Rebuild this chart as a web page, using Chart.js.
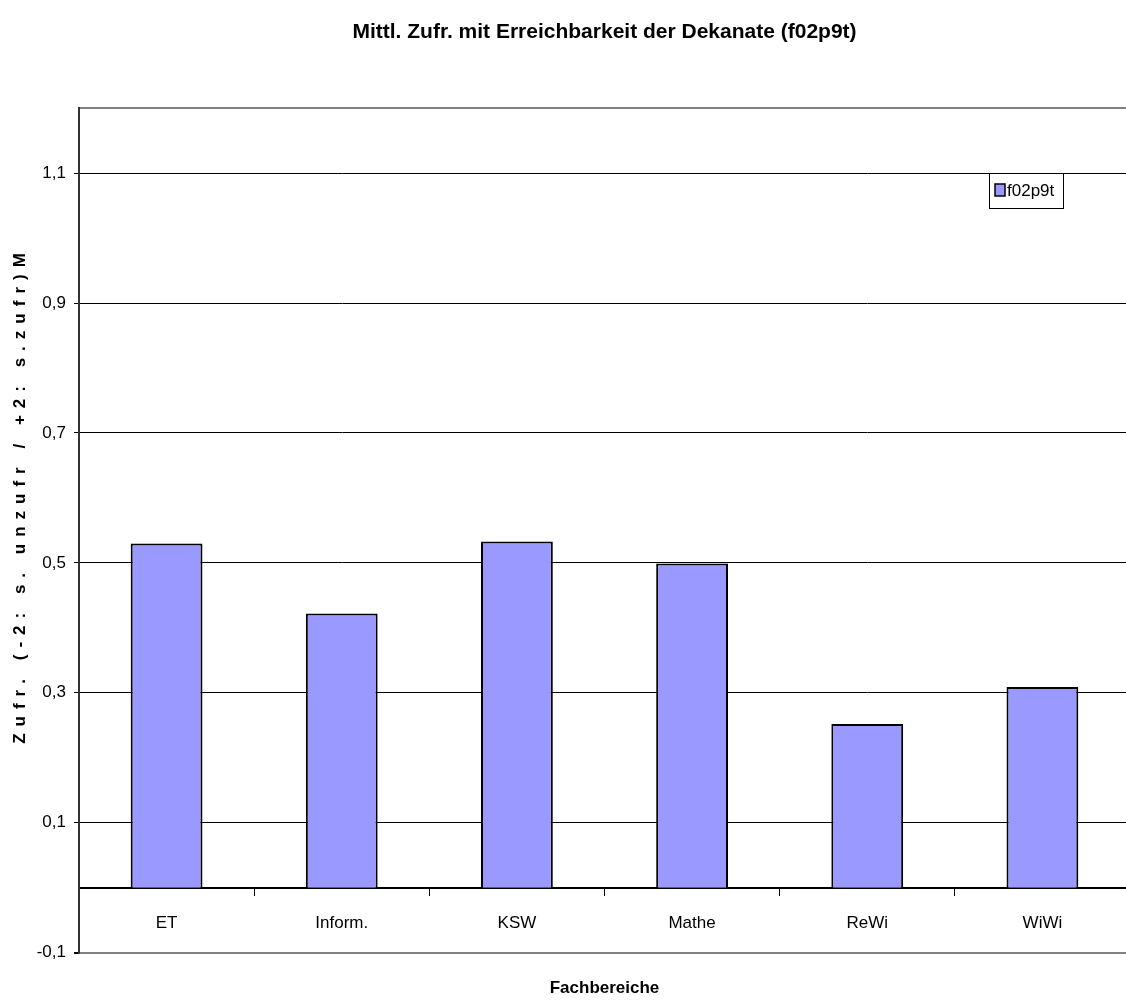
<!DOCTYPE html>
<html>
<head>
<meta charset="utf-8">
<script src="https://cdn.jsdelivr.net/npm/chart.js@4"></script>
<style>
html, body { margin:0; padding:0; background:#fff; overflow:hidden; }
</style>
</head>
<body>
<canvas id="chart" width="1130" height="1007"></canvas>
<script>
// Data
const categories = ['ET', 'Inform.', 'KSW', 'Mathe', 'ReWi', 'WiWi'];
const values = [0.530, 0.422, 0.533, 0.499, 0.252, 0.309];
const yTicks = [-0.1, 0.1, 0.3, 0.5, 0.7, 0.9, 1.1, 1.2];
const seriesName = 'f02p9t';
const titleText = 'Mittl. Zufr. mit Erreichbarkeit der Dekanate (f02p9t)';
const yTitle = 'Zufr. (-2: s. unzufr / +2: s.zufr)M';
const xTitle = 'Fachbereiche';

const FONT = '"Liberation Sans", Arial, sans-serif';
const BAR_COLOR = '#9999FF';

// y axis title and the small legend box inside the plot
const extras = {
    id: 'extras',
    afterDraw(chart) {
        const ctx = chart.ctx;
        ctx.save();
        ctx.translate(20, 495);
        ctx.rotate(-Math.PI / 2);
        ctx.font = 'bold 17px ' + FONT;
        ctx.letterSpacing = '7px';
        ctx.textAlign = 'center';
        ctx.textBaseline = 'middle';
        ctx.fillStyle = '#000';
        ctx.fillText(yTitle, 0, 0);
        ctx.restore();

        // legend
        ctx.save();
        ctx.fillStyle = '#fff';
        ctx.fillRect(989, 173, 74, 35);
        ctx.strokeStyle = '#000';
        ctx.lineWidth = 1;
        ctx.strokeRect(989.5, 173.5, 74, 35);
        ctx.fillStyle = BAR_COLOR;
        ctx.fillRect(995, 184, 10, 12);
        ctx.lineWidth = 1.5;
        ctx.strokeRect(995, 184, 10, 12);
        ctx.fillStyle = '#000';
        ctx.font = '17px ' + FONT;
        ctx.textBaseline = 'middle';
        ctx.fillText(chart.data.datasets[0].label, 1007, 191);
        ctx.restore();
    }
};

const isBorder = v => v === -0.1 || v === 1.2;

new Chart(document.getElementById('chart'), {
    type: 'bar',
    data: {
        labels: categories,
        datasets: [{
            label: seriesName,
            data: values,
            backgroundColor: BAR_COLOR,
            borderColor: '#000',
            borderWidth: 2,
            barPercentage: 0.41,
            categoryPercentage: 1
        }]
    },
    options: {
        responsive: false,
        animation: false,
        devicePixelRatio: 1,
        layout: { padding: 0 },
        plugins: {
            legend: { display: false },
            tooltip: { enabled: false },
            title: {
                display: true,
                text: titleText,
                fullSize: false,
                color: '#000',
                font: { family: FONT, size: 21, weight: 'bold' },
                padding: { top: 20, bottom: 63 }
            },
            subtitle: {
                display: true,
                position: 'bottom',
                text: xTitle,
                fullSize: false,
                color: '#000',
                font: { family: FONT, size: 17, weight: 'bold' },
                padding: { top: 26, bottom: 8 }
            }
        },
        scales: {
            x: {
                position: { y: 0 },
                offset: true,
                grid: {
                    offset: true,
                    drawOnChartArea: false,
                    drawTicks: true,
                    tickLength: 7,
                    color: '#000'
                },
                border: { display: true, color: '#000', width: 2 },
                ticks: {
                    color: '#000',
                    padding: 18,
                    font: { family: FONT, size: 17 }
                }
            },
            y: {
                min: -0.1,
                max: 1.2,
                afterBuildTicks: s => { s.ticks = yTicks.map(v => ({ value: v })); },
                afterFit: s => { s.width = 79; },
                grid: {
                    color: c => isBorder(c.tick.value) ? '#808080' : '#000',
                    lineWidth: c => isBorder(c.tick.value) ? 2 : 1,
                    tickColor: c => c.tick.value === 1.2 ? 'rgba(0,0,0,0)' : '#000',
                    tickLength: 5
                },
                border: { color: '#333', width: 2 },
                ticks: {
                    color: '#000',
                    padding: 8,
                    font: { family: FONT, size: 17 },
                    callback: v => v === 1.2 ? '' : v.toFixed(1).replace('.', ',')
                }
            }
        }
    },
    plugins: [extras]
});
</script>
</body>
</html>
